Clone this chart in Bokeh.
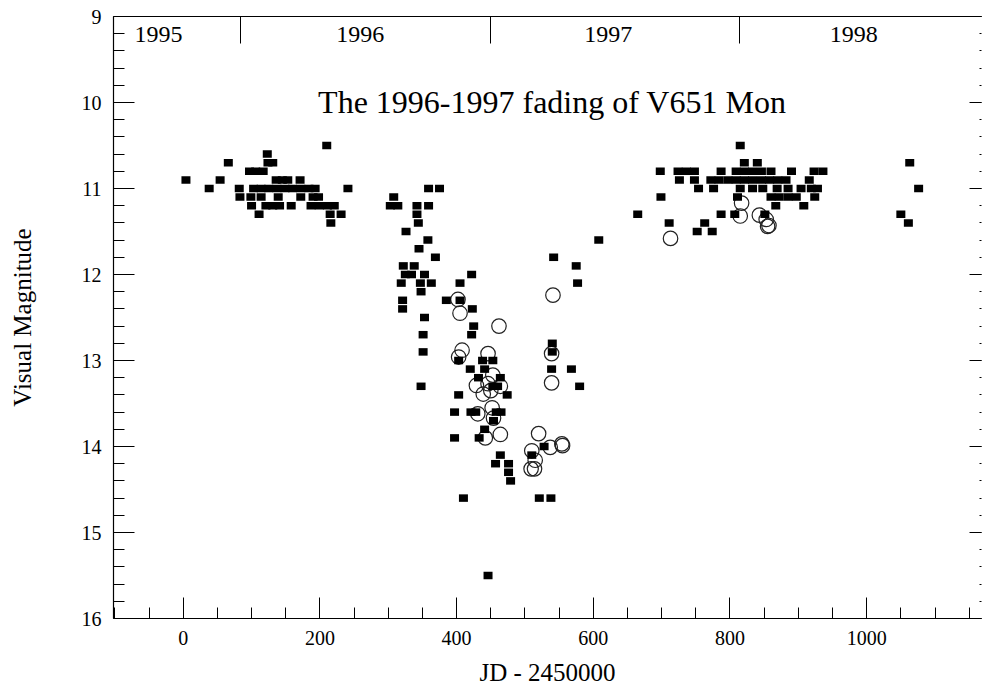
from bokeh.plotting import figure
from bokeh.models import Range1d, LinearAxis, FixedTicker, SingleIntervalTicker
from bokeh.core.properties import value
from bokeh.embed import file_html
from bokeh.resources import INLINE

# ---------------- data ----------------
# visual estimates (filled squares)
sq_x = [4, 38, 54, 66, 82, 83,
        97, 106, 117, 123, 124, 131,
        136, 145, 153, 171,
        103, 114, 125, 137, 149, 160, 172, 184, 193,
        99, 114, 139, 172, 190, 198,
        100, 121, 131, 141, 158, 187, 199, 211, 221,
        111, 215, 231, 216, 210, 241,
        308, 303, 314, 359, 375, 342, 359, 342, 344, 326, 358, 345, 369, 322, 338,
        325, 334, 353, 319, 347, 363, 348, 321, 321, 385, 353, 351, 351, 348,
        422, 405, 405, 423, 425, 422, 403, 438, 453, 420, 441, 432, 464, 453, 460,
        403, 474, 397, 421, 428, 458, 465, 454, 441, 397, 433, 464, 457, 476, 476,
        479, 410, 446,
        542, 575, 577, 540, 540, 539, 568, 580, 528, 510, 521, 538, 608,
        665, 698, 699, 711, 724, 736, 748, 726, 748, 754, 752, 774, 763, 787,
        772, 784, 797, 809, 821, 833, 846, 858, 870, 882, 916,
        776, 815, 833, 848, 869, 885, 904, 919, 928,
        811, 860, 872, 885, 897, 924,
        867, 908, 787, 807, 851,
        815, 821, 840,
        809, 821, 833, 846, 860, 890, 923, 936,
        1063, 1076, 1050, 1061]
sq_y = [10.9, 11.0, 10.9, 10.7, 11.0, 11.1,
        10.8, 10.8, 10.8, 10.6, 10.7, 10.7,
        10.9, 10.9, 10.9, 10.9,
        11.0, 11.0, 11.0, 11.0, 11.0, 11.0, 11.0, 11.0, 11.0,
        11.1, 11.1, 11.1, 11.1, 11.1, 11.1,
        11.2, 11.2, 11.2, 11.2, 11.2, 11.2, 11.2, 11.2, 11.2,
        11.3, 11.3, 11.3, 11.4, 10.5, 11.0,
        11.1, 11.2, 11.2, 11.0, 11.0, 11.2, 11.2, 11.3, 11.4, 11.5, 11.6, 11.7, 11.8, 11.9, 11.9,
        12.0, 12.0, 12.0, 12.1, 12.1, 12.1, 12.2, 12.3, 12.4, 12.3, 12.5, 12.7, 12.9, 13.3,
        12.0, 12.1, 12.3, 12.4, 12.6, 12.7, 13.0, 13.0, 13.0, 13.1, 13.1, 13.2, 13.2, 13.3, 13.3,
        13.4, 13.4, 13.6, 13.6, 13.6, 13.6, 13.6, 13.7, 13.8, 13.9, 13.9, 14.1, 14.2, 14.2, 14.3,
        14.4, 14.6, 15.5,
        11.8, 11.9, 12.1, 12.8, 12.9, 13.1, 13.1, 13.3, 14.0, 14.1, 14.6, 14.6, 11.6,
        11.3, 10.8, 11.1, 11.4, 10.8, 10.8, 10.8, 10.9, 10.9, 11.0, 11.5, 11.5, 11.4, 10.8,
        10.9, 10.9, 10.9, 10.9, 10.9, 10.9, 10.9, 10.9, 10.9, 10.9, 10.9,
        11.0, 11.0, 11.0, 11.0, 11.0, 11.0, 11.0, 11.0, 11.0,
        11.1, 11.1, 11.1, 11.1, 11.1, 11.1,
        11.2, 11.2, 11.3, 11.3, 11.3,
        10.5, 10.7, 10.7,
        10.8, 10.8, 10.8, 10.8, 10.8, 10.8, 10.8, 10.8,
        10.7, 11.0, 11.3, 11.4]

# open circles
ci_x = [402, 405, 541, 462, 539, 408, 403, 446, 453, 429, 446, 464, 439, 450, 539,
        452, 431, 454, 442, 464, 520, 537, 554, 555, 510, 515, 509, 514,
        817, 815, 843, 853, 857, 855, 713]
ci_y = [12.29, 12.45, 12.24, 12.60, 12.92, 12.88, 12.96, 12.92, 13.17, 13.29, 13.27, 13.30,
        13.39, 13.35, 13.26, 13.55, 13.62, 13.67, 13.90, 13.86, 13.85, 14.01, 13.97, 13.99,
        14.05, 14.16, 14.26, 14.26,
        11.17, 11.32, 11.31, 11.36, 11.43, 11.44, 11.58]

years = ["1995", "1996", "1997", "1998"]
year_label_x = [-36, 259, 622, 981]
year_label_y = [9.205, 9.205, 9.205, 9.205]
year_bounds = [83.5, 449.5, 814.5]

title_text = ["The 1996-1997 fading of V651 Mon"]
title_x = [540]
title_y = [9.99]

mag_ticks = [9, 10, 11, 12, 13, 14, 15, 16]

FONT = "Liberation Serif"

# ---------------- figure ----------------
p = figure(width=982, height=692, output_backend="svg", toolbar_location=None,
           x_range=Range1d(-102, 1168), y_range=Range1d(16, 9),
           min_border_left=113, min_border_right=1, min_border_top=16,
           min_border_bottom=74)
p.grid.visible = False
p.outline_line_color = None
p.background_fill_color = "white"
p.border_fill_color = "white"

xa = p.xaxis[0]
xa.ticker = SingleIntervalTicker(interval=200, num_minor_ticks=4)
ya = p.yaxis[0]
ya.ticker = SingleIntervalTicker(interval=1, num_minor_ticks=5)
for ax in (xa, ya):
    ax.axis_line_color = "black"
    ax.axis_line_width = 1.2
    ax.major_tick_in = 21
    ax.major_tick_out = 0
    ax.minor_tick_in = 11
    ax.minor_tick_out = 0
    ax.major_tick_line_color = "black"
    ax.minor_tick_line_color = "black"
    ax.major_label_text_font = FONT
    ax.major_label_text_font_size = "20px"
    ax.major_label_text_color = "black"
    ax.axis_label_text_font = FONT
    ax.axis_label_text_font_size = "25px"
    ax.axis_label_text_font_style = "normal"
    ax.axis_label_text_color = "black"

xa.axis_label = "JD - 2450000"
xa.major_label_standoff = 12
xa.axis_label_standoff = 11
ya.axis_label = "Visual Magnitude"
ya.major_label_standoff = 12
ya.axis_label_standoff = 43

top = LinearAxis(ticker=FixedTicker(ticks=year_bounds),
                 major_tick_in=27, major_tick_out=0,
                 minor_tick_in=0, minor_tick_out=0,
                 major_label_overrides={t: "" for t in year_bounds},
                 major_label_standoff=0,
                 axis_line_color="black", axis_line_width=1.2,
                 major_tick_line_color="black")
p.add_layout(top, "above")

right = LinearAxis(ticker=SingleIntervalTicker(interval=1, num_minor_ticks=5),
                   axis_line_color=None,
                   major_tick_in=12, major_tick_out=0,
                   minor_tick_in=2, minor_tick_out=0,
                   major_label_overrides={t: "" for t in mag_ticks},
                   major_label_standoff=0,
                   major_tick_line_color="black", minor_tick_line_color="black")
p.add_layout(right, "right")

p.scatter(ci_x, ci_y, marker="circle", size=14.5, fill_color=None,
          line_color="#222222", line_width=1.2)
p.rect(sq_x, sq_y, width=9, height=7.5, width_units="screen",
       height_units="screen", fill_color="black", line_color=None)

p.text(year_label_x, year_label_y, text=years, text_font=value(FONT),
       text_font_size="24px", text_align="center", text_baseline="alphabetic",
       text_color="black")
p.text(title_x, title_y, text=title_text, text_font=value(FONT),
       text_font_size="32px", text_align="center", text_baseline="alphabetic",
       text_color="black")

open("out.html", "w").write(file_html(p, INLINE))
